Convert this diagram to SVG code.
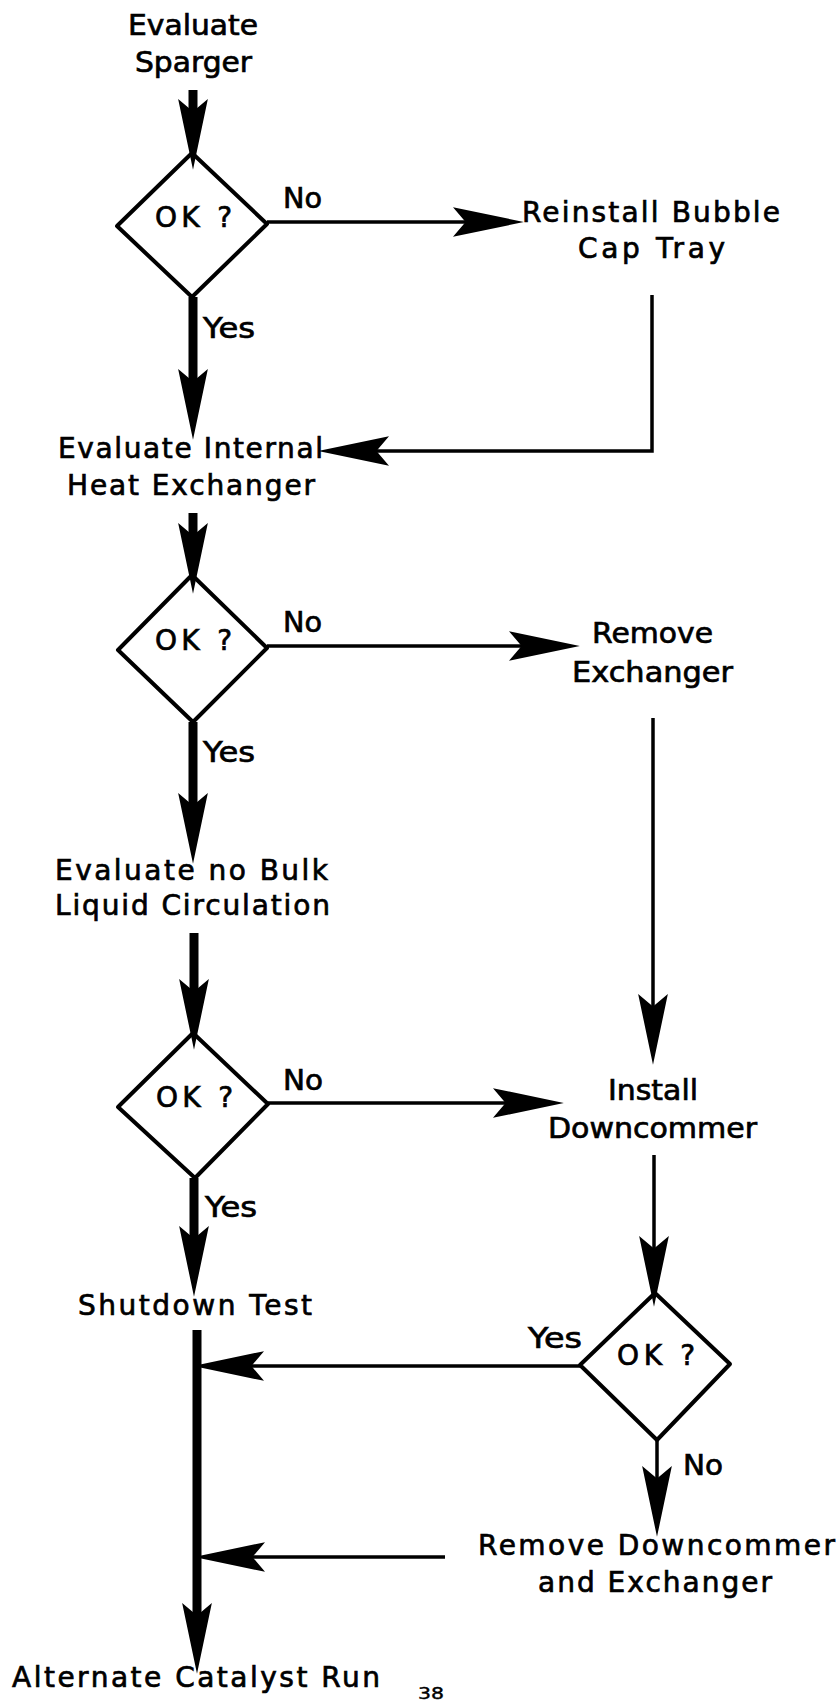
<svg xmlns="http://www.w3.org/2000/svg" width="840" height="1700" viewBox="0 0 840 1700">
<style>
text{font-family:"DejaVu Sans","Liberation Sans",sans-serif;font-size:28px;fill:#000;stroke:#000;stroke-width:0.7}
.d{fill:none;stroke:#000;stroke-width:4;stroke-linejoin:round}
.thick{fill:none;stroke:#000;stroke-width:9}
.thin{fill:none;stroke:#000;stroke-width:3.5}
.arr{marker-end:url(#ah)}
</style>
<defs>
<marker id="ah" markerUnits="userSpaceOnUse" markerWidth="80" markerHeight="40" viewBox="-2 -16 70 32" refX="14" refY="0" orient="auto" overflow="visible">
<path d="M62,0 L0,-13 L11,0 L0,13 Z" fill="#000"/>
</marker>
</defs>
<rect width="840" height="1700" fill="#fff"/>

<g id="n-evaluate-sparger">
<text x="128" y="35" textLength="130" lengthAdjust="spacingAndGlyphs">Evaluate</text>
<text x="135" y="72" textLength="117" lengthAdjust="spacingAndGlyphs">Sparger</text>
</g>
<g id="n-ok1">
<polygon class="d" points="192,153 267,224 192,297 117,226"/>
<text x="155" y="227" textLength="77" lengthAdjust="spacing">OK ?</text>
</g>
<g id="n-reinstall">
<text x="522" y="222" textLength="258" lengthAdjust="spacing">Reinstall Bubble</text>
<text x="578" y="258" textLength="147" lengthAdjust="spacing">Cap Tray</text>
</g>
<g id="n-evaluate-internal">
<text x="58" y="458" textLength="265" lengthAdjust="spacing">Evaluate Internal</text>
<text x="67" y="495" textLength="248" lengthAdjust="spacing">Heat Exchanger</text>
</g>
<g id="n-ok2">
<polygon class="d" points="192,575 267,648 193,722 118,650"/>
<text x="155" y="650" textLength="77" lengthAdjust="spacing">OK ?</text>
</g>
<g id="n-remove-exchanger">
<text x="592" y="643" textLength="121" lengthAdjust="spacingAndGlyphs">Remove</text>
<text x="572" y="682" textLength="161" lengthAdjust="spacingAndGlyphs">Exchanger</text>
</g>
<g id="n-evaluate-bulk">
<text x="55" y="880" textLength="273" lengthAdjust="spacing">Evaluate no Bulk</text>
<text x="55" y="915" textLength="275" lengthAdjust="spacing">Liquid Circulation</text>
</g>
<g id="n-ok3">
<polygon class="d" points="193,1033 268,1104 195,1178 118,1107"/>
<text x="156" y="1107" textLength="77" lengthAdjust="spacing">OK ?</text>
</g>
<g id="n-install">
<text x="608" y="1100" textLength="90" lengthAdjust="spacingAndGlyphs">Install</text>
<text x="548" y="1138" textLength="209" lengthAdjust="spacingAndGlyphs">Downcommer</text>
</g>
<g id="n-shutdown">
<text x="78" y="1315" textLength="234" lengthAdjust="spacing">Shutdown Test</text>
</g>
<g id="n-ok4">
<polygon class="d" points="655,1293 730,1364 657,1440 580,1365"/>
<text x="617" y="1365" textLength="78" lengthAdjust="spacing">OK ?</text>
</g>
<g id="n-remove-both">
<text x="478" y="1555" textLength="357" lengthAdjust="spacing">Remove Downcommer</text>
<text x="538" y="1592" textLength="234" lengthAdjust="spacing">and Exchanger</text>
</g>
<g id="n-alternate">
<text x="12" y="1687" textLength="368" lengthAdjust="spacing">Alternate Catalyst Run</text>
</g>
<g id="page-number">
<text x="418" y="1699" textLength="26" lengthAdjust="spacingAndGlyphs" style="font-size:15px;stroke-width:0.4">38</text>
</g>

<g id="connectors">
<line class="thick arr" x1="193" y1="90" x2="193" y2="115"/>
<line class="thick arr" x1="193" y1="297" x2="193" y2="385"/>
<line class="thin arr" x1="267" y1="222" x2="469" y2="222"/>
<path class="thin arr" d="M652,295 L652,451 L373,451"/>
<line class="thick arr" x1="193" y1="513" x2="193" y2="539"/>
<line class="thick arr" x1="193" y1="722" x2="193" y2="809"/>
<line class="thin arr" x1="267" y1="646" x2="525" y2="646"/>
<line class="thin arr" x1="653" y1="718" x2="653" y2="1010"/>
<line class="thick arr" x1="194" y1="933" x2="194" y2="995"/>
<line class="thick arr" x1="194" y1="1178" x2="194" y2="1242"/>
<line class="thin arr" x1="268" y1="1103" x2="509" y2="1103"/>
<line class="thin arr" x1="654" y1="1155" x2="654" y2="1252"/>
<line class="thin arr" x1="580" y1="1366" x2="248" y2="1366"/>
<line class="thin arr" x1="657" y1="1440" x2="657" y2="1482"/>
<line class="thin arr" x1="445" y1="1557" x2="249" y2="1557"/>
<line class="thick arr" x1="197" y1="1330" x2="197" y2="1619"/>
</g>
<g id="labels">
<text x="283" y="208" textLength="39" lengthAdjust="spacingAndGlyphs">No</text>
<text x="203" y="338" textLength="52" lengthAdjust="spacingAndGlyphs">Yes</text>
<text x="283" y="632" textLength="39" lengthAdjust="spacingAndGlyphs">No</text>
<text x="203" y="762" textLength="52" lengthAdjust="spacingAndGlyphs">Yes</text>
<text x="283" y="1090" textLength="40" lengthAdjust="spacingAndGlyphs">No</text>
<text x="205" y="1217" textLength="52" lengthAdjust="spacingAndGlyphs">Yes</text>
<text x="528" y="1348" textLength="54" lengthAdjust="spacingAndGlyphs">Yes</text>
<text x="683" y="1475" textLength="40" lengthAdjust="spacingAndGlyphs">No</text>
</g>
</svg>
